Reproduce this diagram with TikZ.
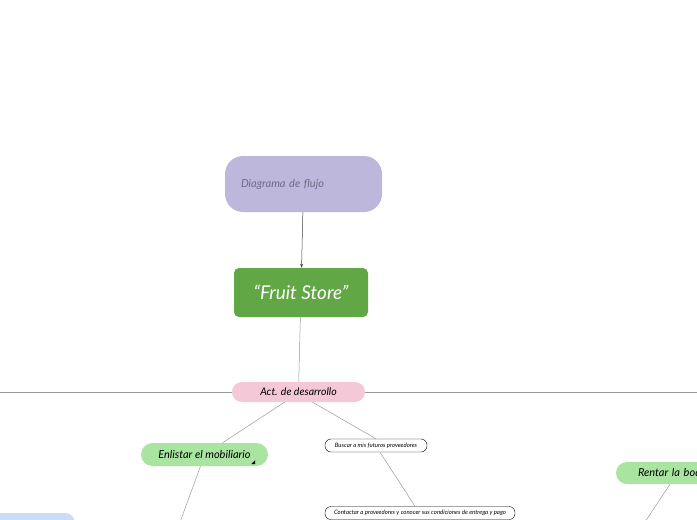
\documentclass[tikz,border=0pt]{standalone}
\usepackage{fontspec}
\setmainfont{Lato}
\usepackage{xcolor}
\usetikzlibrary{arrows.meta, positioning}

\definecolor{lavender}{HTML}{BDB8DB}
\definecolor{lavtext}{HTML}{6E6A86}
\definecolor{storegreen}{HTML}{62A745}
\definecolor{actpink}{HTML}{F4C8D7}
\definecolor{taskgreen}{HTML}{A9E4A1}
\definecolor{lightblue}{HTML}{C9DDF8}
\definecolor{linegray}{HTML}{9A9A9A}

\begin{document}
\begin{tikzpicture}[x=1pt, y=-1pt,
    box/.style={inner sep=0pt, font=\itshape},
    tiny/.style={box, draw=black, line width=0.4pt, fill=white, rounded corners=6pt,
        minimum height=13pt, font=\itshape\fontsize{6}{7}\selectfont},
    link/.style={draw=linegray, line width=0.5pt}]
    \useasboundingbox (0,0) rectangle (697,520);
    \clip (0,0) rectangle (697,520);

    \node[box, fill=lavender, rounded corners=18pt, minimum width=157pt, minimum height=56pt,
        text width=125pt, align=left, text=lavtext, font=\itshape\fontsize{11}{13}\selectfont]
        (flujo) at (303.5,184) {Diagrama de flujo};
    \node[box, fill=storegreen, rounded corners=5pt, minimum width=134pt, minimum height=49pt,
        text=white, font=\itshape\fontsize{19}{22}\selectfont] (store) at (301,292.5) {“Fruit Store”};
    \node[box, fill=actpink, rounded corners=10pt, minimum width=133pt, minimum height=20pt,
        font=\itshape\fontsize{10.5}{12}\selectfont] (act) at (298.5,392) {Act. de desarrollo};
    \node[box, fill=taskgreen, rounded corners=11.5pt, minimum width=127pt, minimum height=23pt,
        font=\itshape\fontsize{11}{13}\selectfont] (enlistar) at (204.5,454.5) {Enlistar el mobiliario};
    \node[tiny, minimum width=102pt] (buscar) at (376,445.5) {Buscar a mis futuros proveedores};
    \node[tiny, minimum width=190pt] (contactar) at (420,513) {Contactar a proveedores y conocer sus condiciones de entrega y pago};
    \node[box, fill=taskgreen, rounded corners=11pt, minimum width=172pt, minimum height=22pt,
        text width=128pt, align=left, font=\itshape\fontsize{11}{13}\selectfont]
        (rentar) at (702,473) {Rentar la bodega};
    \node[box, fill=lightblue, rounded corners=10pt, minimum width=110pt, minimum height=30pt]
        (azul) at (20,528) {};

    \fill ([shift={(-17,-2)}]enlistar.south east) -- ++(4,0) -- ++(0,-4) -- cycle;

    \coordinate (izq) at (-5,392);
    \coordinate (der) at (702,392);
    \coordinate (abajo1) at (179,525);
    \coordinate (abajo2) at (643,525);

    \draw[draw=black!75, line width=0.5pt, -{Stealth[length=4pt, width=3pt]}] (flujo) -- (store);
    \draw[link] (store) -- (act);
    \draw[link] (act) -- (izq);
    \draw[link] (act) -- (der);
    \draw[link] ([xshift=-14pt]act.south) -- ([xshift=18pt]enlistar.north);
    \draw[link] ([xshift=14pt]act.south) -- (buscar.north);
    \draw[link] ([xshift=4pt]buscar.south) -- ([xshift=-5pt]contactar.north);
    \draw[link] ([xshift=-4pt]enlistar.south) -- (abajo1);
    \draw[link] ([xshift=-32pt]rentar.south) -- (abajo2);
\end{tikzpicture}
\end{document}
